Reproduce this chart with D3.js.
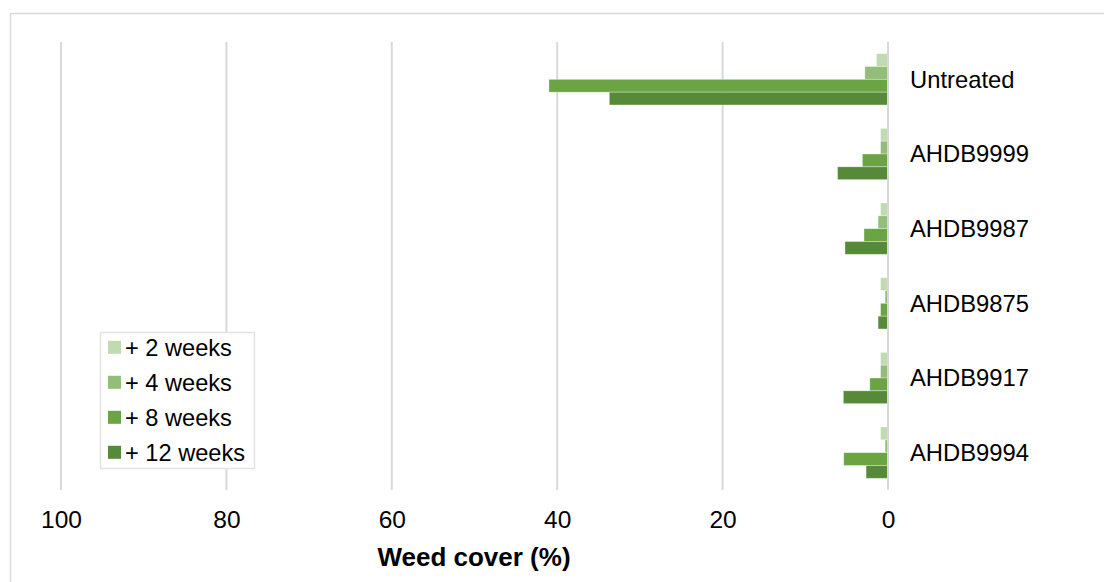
<!DOCTYPE html>
<html>
<head>
<meta charset="utf-8">
<script src="https://cdn.jsdelivr.net/npm/d3@7"></script>
<style>
  html, body { margin: 0; padding: 0; background: #fff; }
  svg { display: block; font-family: "Liberation Sans", Arial, sans-serif; }
</style>
</head>
<body>
<svg id="chart" width="1104" height="582"></svg>
<script>
// ---- data ----
const categories = ["Untreated", "AHDB9999", "AHDB9987", "AHDB9875", "AHDB9917", "AHDB9994"];
const seriesNames = ["+ 2 weeks", "+ 4 weeks", "+ 8 weeks", "+ 12 weeks"];
const weeks2  = [1.4, 0.9, 0.9, 0.9, 0.9, 0.9];
const weeks4  = [2.8, 0.9, 1.2, 0.35, 0.9, 0.35];
const weeks8  = [41.0, 3.1, 2.9, 0.9, 2.2, 5.35];
const weeks12 = [33.7, 6.1, 5.2, 1.2, 5.4, 2.65];
const xTicks = [0, 20, 40, 60, 80, 100];
const xTitle = "Weed cover (%)";
const colors = ["#c2dab2", "#93be7a", "#6aa443", "#568a38"];

const seriesValues = [weeks2, weeks4, weeks8, weeks12];

// ---- layout ----
const svg = d3.select("#chart");
const plot = { left: 61, right: 888, top: 42, bottom: 490 };

const x = d3.scaleLinear().domain([0, 100]).range([plot.right, plot.left]);
const y = d3.scaleBand().domain(categories).range([plot.top, plot.bottom])
  .paddingInner(0.313).paddingOuter(0.1565);
const ySub = d3.scaleBand().domain(d3.range(seriesNames.length)).range([0, y.bandwidth()]);

// outer chart border
svg.append("rect")
  .attr("x", 10.5).attr("y", 13.5)
  .attr("width", 1200).attr("height", 700)
  .attr("fill", "none").attr("stroke", "#d9d9d9").attr("stroke-width", 1.5);

// gridlines (incl. zero line)
svg.append("g").selectAll("line").data(xTicks).join("line")
  .attr("x1", d => x(d)).attr("x2", d => x(d))
  .attr("y1", plot.top).attr("y2", plot.bottom)
  .attr("stroke", "#d9d9d9").attr("stroke-width", 2);

// bars
const groups = svg.append("g").selectAll("g").data(categories).join("g")
  .attr("transform", c => `translate(0,${y(c)})`);

groups.selectAll("rect")
  .data((c, ci) => seriesValues.map((vals, si) => ({ si, v: vals[ci] })))
  .join("rect")
  .attr("x", d => x(d.v))
  .attr("y", d => ySub(d.si))
  .attr("width", d => x(0) - x(d.v))
  .attr("height", ySub.bandwidth())
  .attr("fill", d => colors[d.si])
  .attr("stroke", "rgba(255,255,255,0.45)")
  .attr("stroke-width", 0.75);

// re-draw zero line on top
svg.append("line")
  .attr("x1", x(0)).attr("x2", x(0))
  .attr("y1", plot.top).attr("y2", plot.bottom)
  .attr("stroke", "#d9d9d9").attr("stroke-width", 2);

// x axis tick labels
const xAxis = d3.axisBottom(x).tickValues(xTicks).tickSize(0).tickPadding(0);
const ax = svg.append("g").attr("transform", `translate(0,${527.5})`).call(xAxis);
ax.select(".domain").remove();
ax.selectAll("text")
  .attr("dy", 0).attr("y", 0)
  .attr("font-size", 24.5).attr("font-family", "Liberation Sans, Arial, sans-serif")
  .attr("fill", "#000");

// axis title
svg.append("text")
  .attr("x", 474).attr("y", 566)
  .attr("text-anchor", "middle")
  .attr("font-size", 26).attr("font-weight", "bold")
  .attr("fill", "#000")
  .text(xTitle);

// category labels on the right
svg.append("g").selectAll("text").data(categories).join("text")
  .attr("x", 910)
  .attr("y", c => y(c) + y.bandwidth() / 2)
  .attr("dy", "0.35em")
  .attr("font-size", 23.8)
  .attr("fill", "#000")
  .text(c => c);

// legend
const lg = svg.append("g");
lg.append("rect")
  .attr("x", 100.5).attr("y", 332.5).attr("width", 154).attr("height", 136)
  .attr("fill", "#fff").attr("stroke", "#e3e3e3").attr("stroke-width", 1.5);
const items = lg.selectAll("g.item").data(seriesNames).join("g")
  .attr("class", "item")
  .attr("transform", (d, i) => `translate(108,${347.3 + i * 35})`);
items.append("rect")
  .attr("x", 0).attr("y", -6.5).attr("width", 13).attr("height", 13)
  .attr("fill", (d, i) => colors[i]);
items.append("text")
  .attr("x", 17).attr("y", 0).attr("dy", "0.35em")
  .attr("font-size", 23.6).attr("fill", "#000")
  .text(d => d);
</script>
</body>
</html>
